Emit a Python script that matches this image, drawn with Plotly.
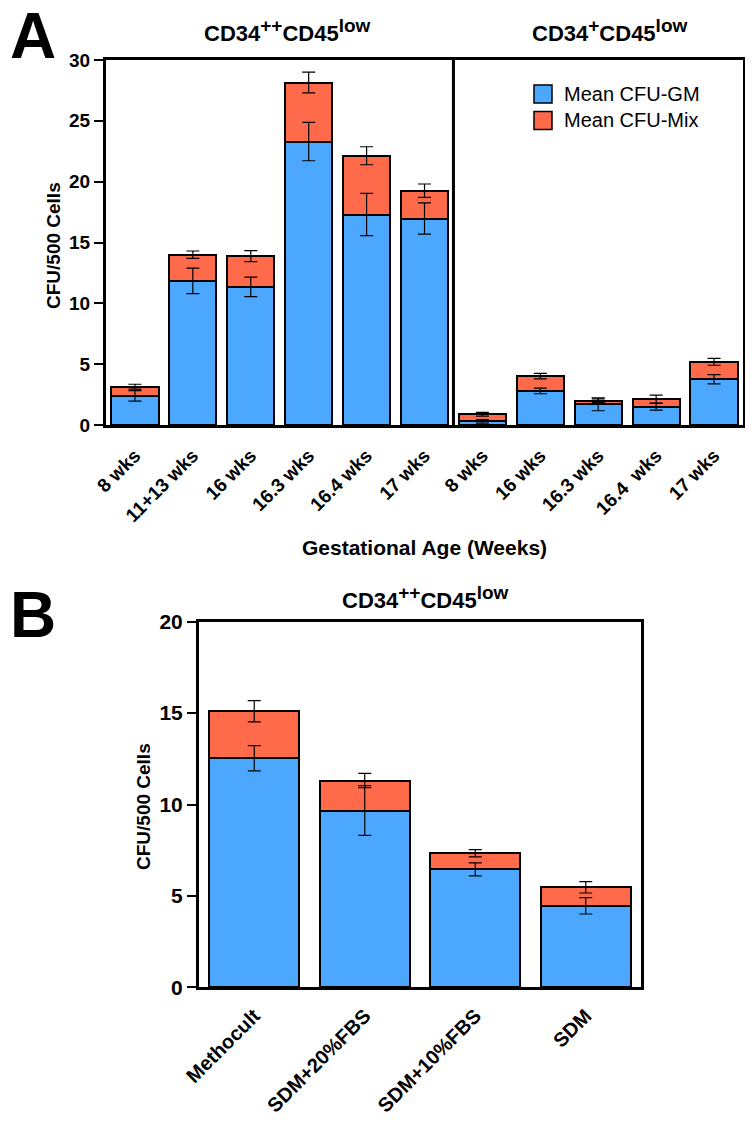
import plotly.graph_objects as go

# ---------------- data ----------------
a_labels = ["8 wks", "11+13 wks", "16 wks", "16.3 wks", "16.4 wks", "17 wks",
            "8 wks", "16 wks", "16.3 wks", "16.4  wks", "17 wks"]
a_gm = [2.40, 11.85, 11.35, 23.30, 17.30, 16.97, 0.30, 2.80, 1.70, 1.50, 3.76]
a_mix = [0.75, 2.15, 2.53, 4.85, 4.83, 2.29, 0.58, 1.22, 0.30, 0.62, 1.43]
a_gm_err = [0.43, 1.05, 0.80, 1.58, 1.73, 1.28, 0.15, 0.23, 0.53, 0.28, 0.38]
a_mix_err = [0.20, 0.30, 0.45, 0.85, 0.74, 0.55, 0.15, 0.23, 0.15, 0.33, 0.28]

b_labels = ["Methocult", "SDM+20%FBS", "SDM+10%FBS", "SDM"]
b_gm = [12.53, 9.67, 6.45, 4.46]
b_mix = [2.57, 1.64, 0.88, 1.01]
b_gm_err = [0.69, 1.36, 0.36, 0.45]
b_mix_err = [0.58, 0.39, 0.20, 0.31]

series_names = ["Mean CFU-GM", "Mean CFU-Mix"]
SUP = "<sup><span style='font-size:19px'>%s</span></sup>"
a_group_titles = ["CD34" + SUP % "++" + "CD45" + SUP % "low", "CD34" + SUP % "+" + "CD45" + SUP % "low"]
b_title = "CD34" + SUP % "++" + "CD45" + SUP % "low"

# ---------------- style ----------------
OFF = 8                      # page body margin of the rendered html
W, H = 753 - OFF, 1127 - OFF
BLUE = "#4CA8FF"
RED = "#FF6A4B"
FONT = "Liberation Sans, Arial, Helvetica, sans-serif"


def px(x):
    return (x - OFF) / W


def py(y):
    return 1 - (y - OFF) / H


a_x = list(range(len(a_labels)))
b_x = list(range(len(b_labels)))

fig = go.Figure()


def add_panel(xs, gm, mix, gm_err, mix_err, xa, ya):
    fig.add_trace(go.Bar(x=xs, y=gm, name=series_names[0], marker=dict(color=BLUE, line=dict(color="black", width=2)),
                         xaxis=xa, yaxis=ya, showlegend=False))
    fig.add_trace(go.Bar(x=xs, y=mix, name=series_names[1], marker=dict(color=RED, line=dict(color="black", width=2)),
                         xaxis=xa, yaxis=ya, showlegend=False))
    tot = [g + m for g, m in zip(gm, mix)]
    for yy, ee in ((gm, gm_err), (tot, mix_err)):
        fig.add_trace(go.Scatter(x=xs, y=yy, mode="markers", marker=dict(size=1, opacity=0),
                                 error_y=dict(type="data", array=ee, visible=True, color="black",
                                              thickness=1.2, width=6.5),
                                 xaxis=xa, yaxis=ya, showlegend=False, hoverinfo="skip"))


add_panel(a_x, a_gm, a_mix, a_gm_err, a_mix_err, "x", "y")
add_panel(b_x, b_gm, b_mix, b_gm_err, b_mix_err, "x2", "y2")

axis_common = dict(showline=True, linecolor="black", linewidth=3, mirror=True, showgrid=False,
                   zeroline=False, automargin=False)

fig.update_layout(
    width=W, height=H, margin=dict(l=0, r=0, t=0, b=0, autoexpand=False),
    paper_bgcolor="white", plot_bgcolor="white",
    barmode="stack", bargap=0.185,
    showlegend=False,
    font=dict(family=FONT, color="black"),
    xaxis=dict(domain=[px(106), px(743)], range=[-0.5, 10.5], tickmode="array", tickvals=a_x, ticktext=a_labels,
               tickangle=-45, ticks="", ticklabelstandoff=9,
               tickfont=dict(family=FONT, size=19, color="black", weight="bold"), **axis_common),
    yaxis=dict(domain=[py(425), py(60)], range=[0, 30], tickmode="linear", tick0=0, dtick=5,
               ticks="outside", ticklen=9, tickwidth=2, tickcolor="black",
               tickfont=dict(family=FONT, size=19, color="black", weight="bold"), **axis_common),
    xaxis2=dict(domain=[px(199), px(641)], range=[-0.5, 3.5], tickmode="array", tickvals=b_x, ticktext=b_labels,
                tickangle=-45, ticks="", ticklabelstandoff=6,
                tickfont=dict(family=FONT, size=20, color="black", weight="bold"),
                anchor="y2", **axis_common),
    yaxis2=dict(domain=[py(987.3), py(621.7)], range=[0, 20], tickmode="linear", tick0=0, dtick=5,
                ticks="outside", ticklen=9, tickwidth=2, tickcolor="black", anchor="x2",
                tickfont=dict(family=FONT, size=21, color="black", weight="bold"), **axis_common),
)

# divider between the two groups in panel A
fig.add_shape(type="line", xref="x", yref="y domain", x0=5.5, x1=5.5, y0=0, y1=1,
              line=dict(color="black", width=3))

ann = []


def text(x, y, t, size, bold=True, xanchor="center", yanchor="middle", angle=0):
    ann.append(dict(x=px(x), y=py(y), xref="paper", yref="paper", text=t, showarrow=False,
                    xanchor=xanchor, yanchor=yanchor, textangle=angle,
                    font=dict(family=FONT, size=size, color="black", weight="bold" if bold else "normal")))


text(8, 36, "A", 64, xanchor="left")
text(8, 615, "B", 64, xanchor="left")
text(287, 31, a_group_titles[0], 22)
text(609, 31, a_group_titles[1], 22)
text(425, 597, b_title, 22)
text(53, 246, "CFU/500 Cells", 19, angle=-90)
text(143, 807, "CFU/500 Cells", 19, angle=-90)
text(424.5, 547, "Gestational Age (Weeks)", 21)

# legend drawn inside panel A
for i, (col, name) in enumerate(((BLUE, series_names[0]), (RED, series_names[1]))):
    y0 = 85 + i * 26.5
    fig.add_shape(type="rect", xref="paper", yref="paper", x0=px(534), x1=px(552), y0=py(y0 + 18), y1=py(y0),
                  fillcolor=col, line=dict(color="black", width=1.5))
    text(562, y0 + 9, name, 20, bold=False, xanchor="left")

fig.update_layout(annotations=ann)
fig.write_html("out.html")
